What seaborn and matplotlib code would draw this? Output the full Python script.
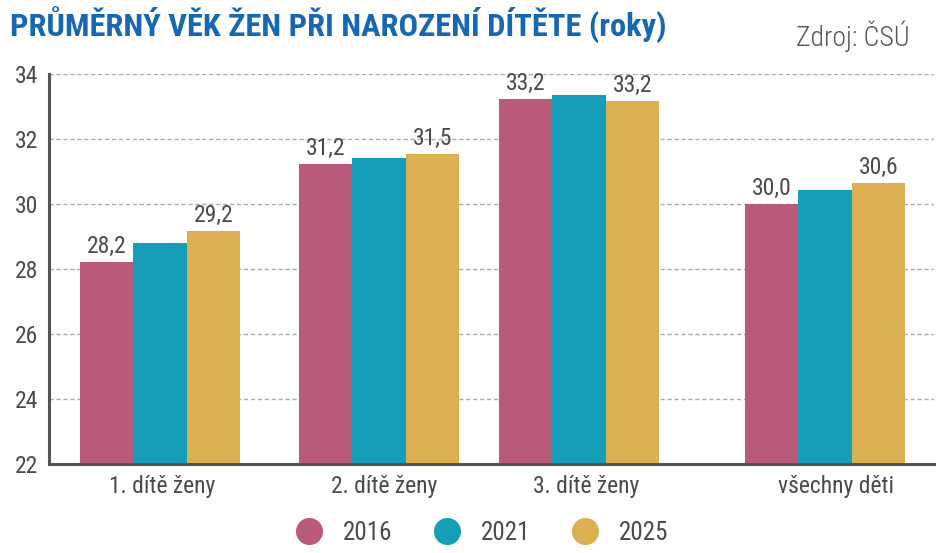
import pandas as pd
import matplotlib
matplotlib.use("Agg")
import matplotlib.pyplot as plt
from matplotlib.lines import Line2D
import seaborn as sns

# data
groups = ["1. dítě ženy", "2. dítě ženy", "3. dítě ženy", "všechny děti"]
years = ["2016", "2021", "2025"]
v2016 = [28.22, 31.24, 33.24, 30.0]
v2021 = [28.81, 31.42, 33.36, 30.44]
v2025 = [29.18, 31.54, 33.18, 30.64]
yticks = [22, 24, 26, 28, 30, 32, 34]

# group centres on the x axis (uneven spacing as in the original)
group_pos = [160, 379, 579, 825]
# the category labels sit a little right of the bar groups
label_pos = [162, 384, 586, 836]

colors = {"2016": "#b95a7d", "2021": "#169eb7", "2025": "#dcaf53"}
txt = "#4a4a4a"

rows = []
for year, vals in zip(years, [v2016, v2021, v2025]):
    for g, p, v in zip(groups, group_pos, vals):
        rows.append({"group": g, "pos": p, "year": year, "value": v})
df = pd.DataFrame(rows)

sns.set_style("white")
plt.rcParams["font.family"] = ["Roboto Condensed", "Liberation Sans Narrow",
                               "Lato", "DejaVu Sans"]

fig = plt.figure(figsize=(9.48, 5.53), dpi=100)
ax = fig.add_axes([49 / 948, 1 - 464 / 553, (934 - 49) / 948, 390 / 553])

sns.barplot(data=df, x="pos", y="value", hue="year", native_scale=True,
            palette=colors, width=0.8, errorbar=None, ax=ax, legend=False,
            linewidth=0, saturation=1)

ax.set_xlim(49, 934)
ax.set_ylim(22, 34)
ax.set_yticks(yticks)
ax.set_yticklabels([str(t) for t in yticks], fontsize=17, color=txt)
ax.set_xticks(label_pos)
ax.set_xticklabels(groups, fontsize=17, color=txt)
ax.set_xlabel("")
ax.set_ylabel("")
ax.tick_params(axis="both", length=0, pad=8)

ax.grid(axis="y", linestyle=(0, (3, 2)), color="#aaaaaa", linewidth=1)
ax.set_axisbelow(True)
for s in ["top", "right"]:
    ax.spines[s].set_visible(False)
for s in ["left", "bottom"]:
    ax.spines[s].set_color("#555555")
    ax.spines[s].set_linewidth(2.2)

# value labels only for 2016 and 2025
for cont, vals in [(ax.containers[0], v2016), (ax.containers[2], v2025)]:
    ax.bar_label(cont, labels=[f"{v:.1f}".replace(".", ",") for v in vals],
                 padding=3, fontsize=17, color=txt)

fig.text(10 / 948, 1 - 25 / 553, "PRŮMĚRNÝ VĚK ŽEN PŘI NAROZENÍ DÍTĚTE (roky)",
         fontsize=23.3, fontweight="bold", color="#1767b2", va="center")
fig.text(910 / 948, 1 - 36 / 553, "Zdroj: ČSÚ", fontsize=20, color="#555555",
         va="center", ha="right", fontweight="light")

handles = [Line2D([0], [0], marker="o", linestyle="", markersize=19.5,
                  markerfacecolor=colors[y], markeredgewidth=0) for y in years]
fig.legend(handles, years, loc="center", bbox_to_anchor=(476 / 948, 1 - 533 / 553),
           ncol=3, frameon=False, fontsize=18, handletextpad=0.35,
           columnspacing=1.2, labelcolor=txt)

plt.savefig("out.png", dpi=100)
